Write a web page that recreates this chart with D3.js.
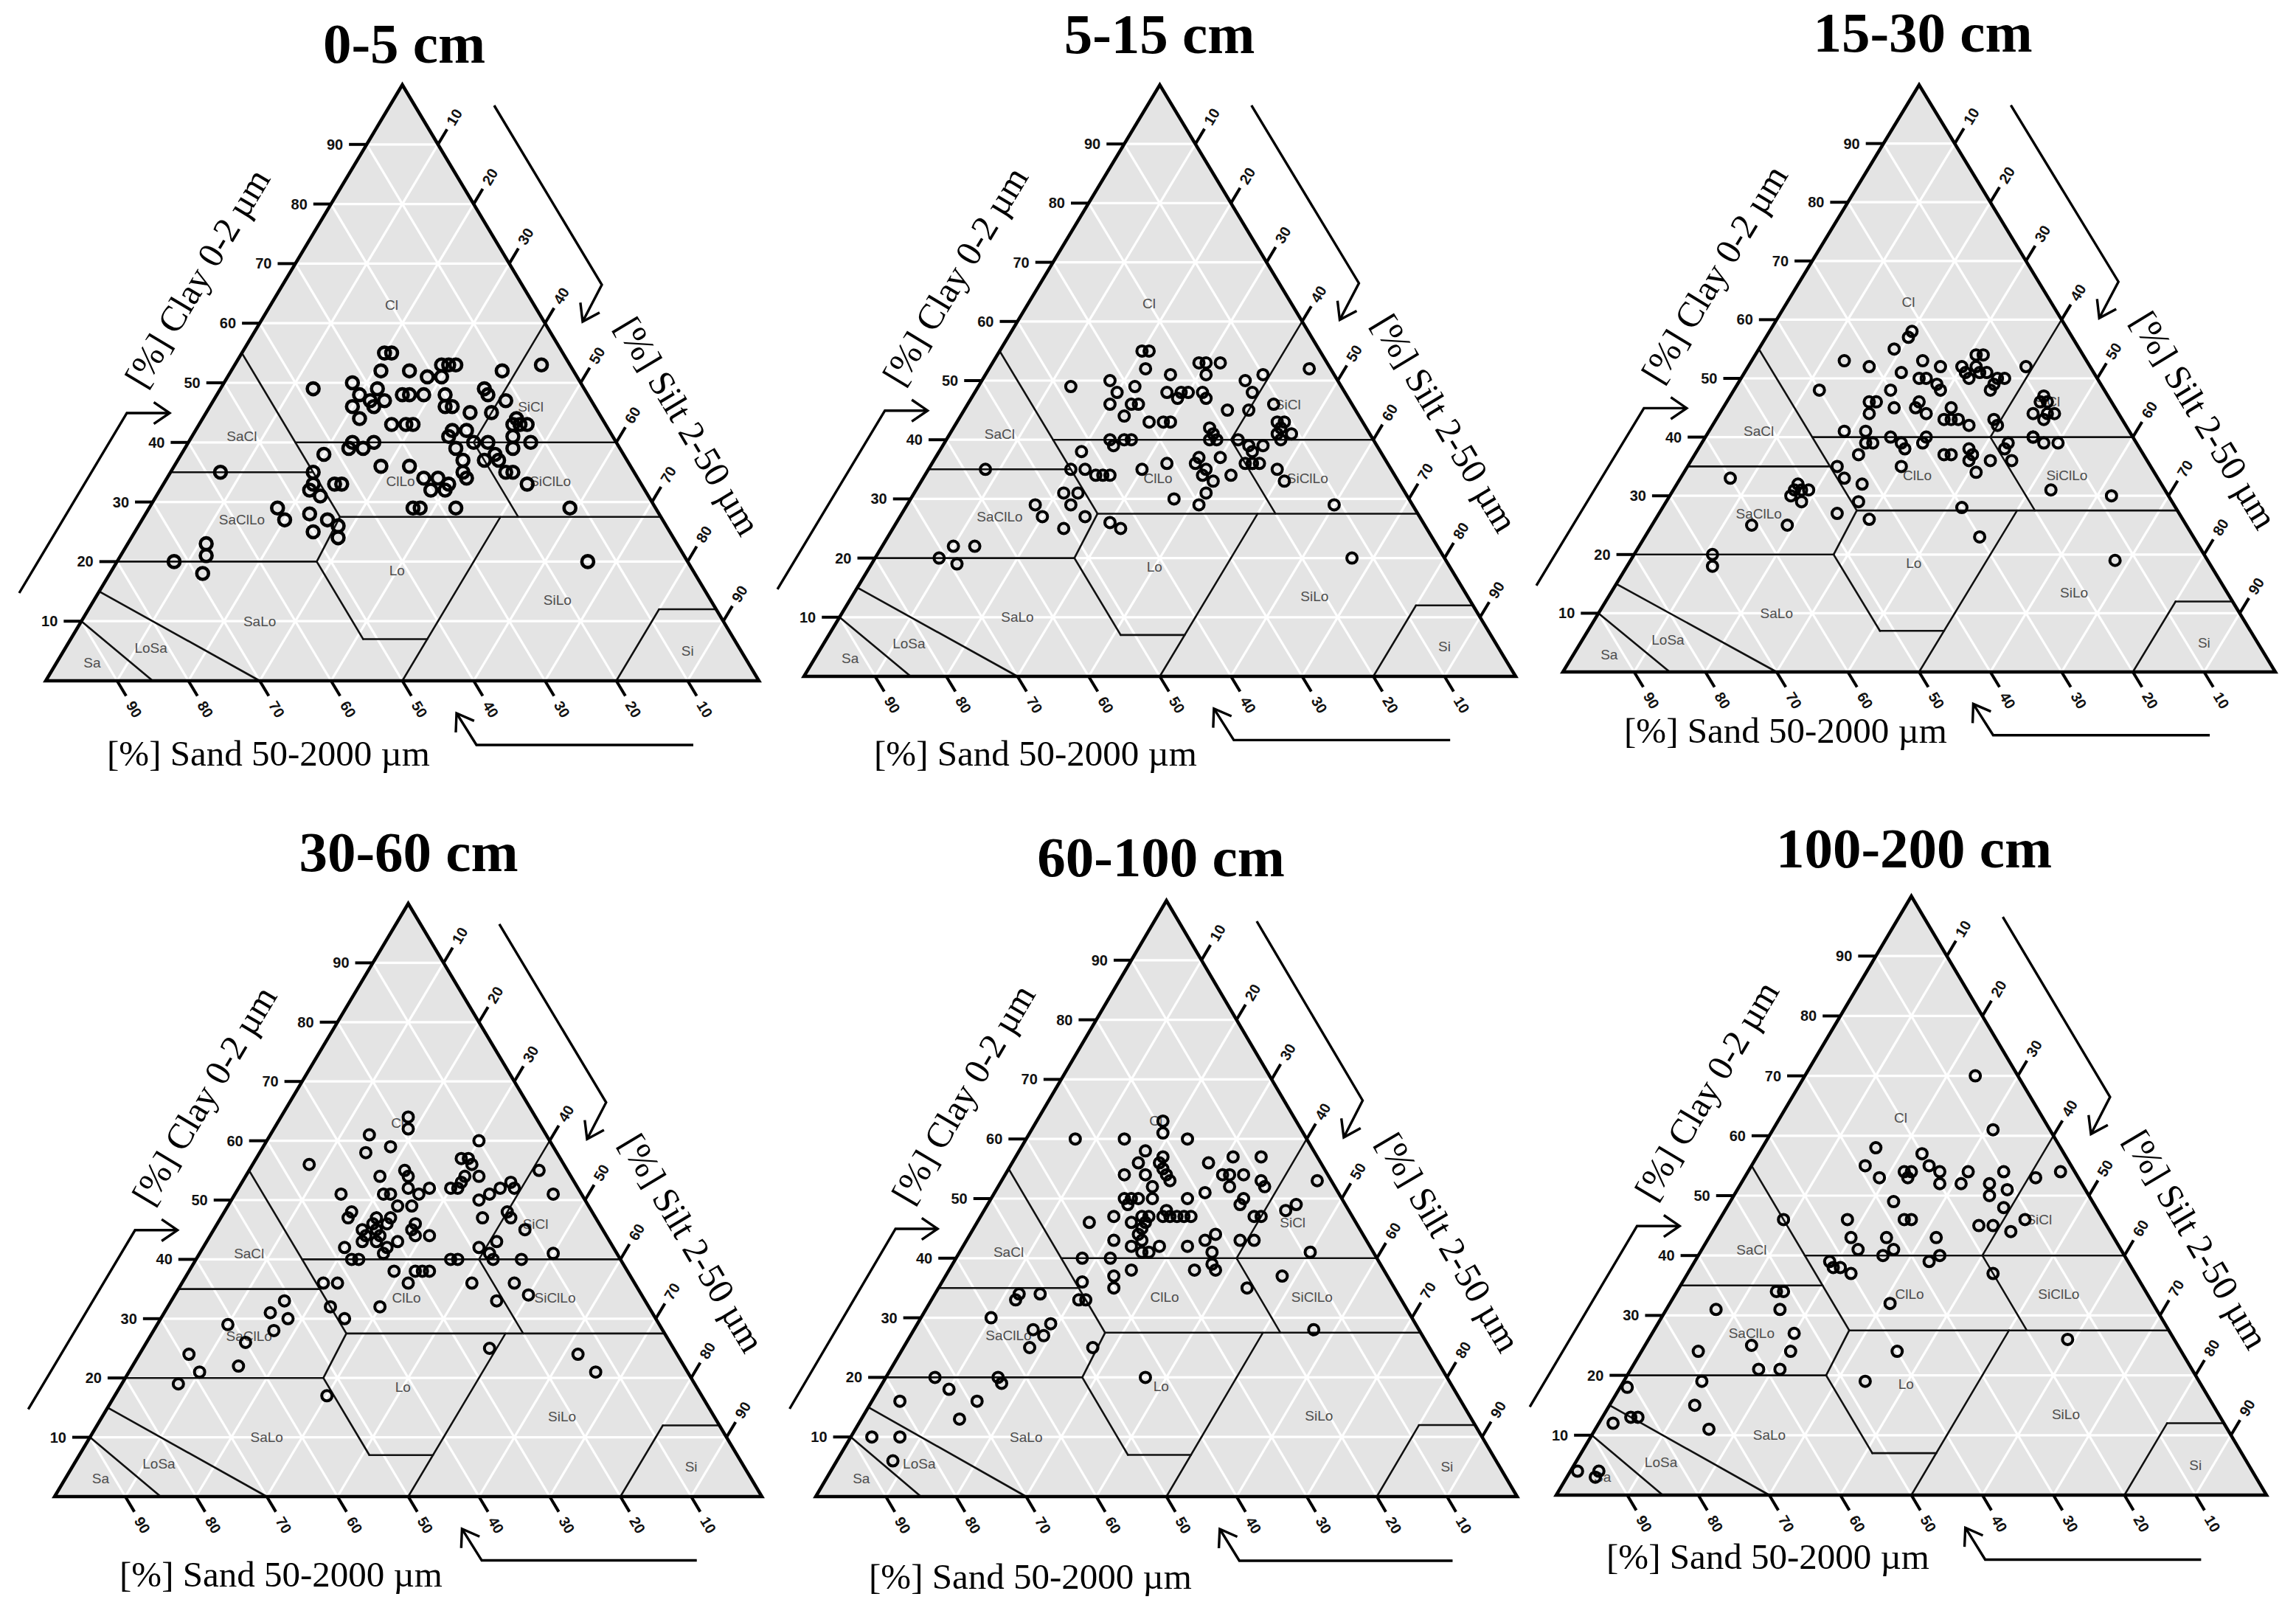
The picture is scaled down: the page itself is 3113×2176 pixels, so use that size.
<!DOCTYPE html>
<html>
<head>
<meta charset="utf-8">
<script src="https://cdn.jsdelivr.net/npm/d3@7"></script>
<style>
  body { margin: 0; background: #ffffff; }
  svg { display: block; }
</style>
</head>
<body>
<svg id="chart" width="3113" height="2176"></svg>
<script>
// ---------------- DATA: each point is [sand, silt, clay] in % ----------------
const depthTitles = ["0-5 cm", "5-15 cm", "15-30 cm", "30-60 cm", "60-100 cm", "100-200 cm"];

const depth0_5 = [[25,20,55],[24,21,55],[27,21,52],[38,13,49],[32,18,50],[32,20,48],[29,22,49],[31,22,47],[29,24,47],[34,20,46],[34,22,44],[31,23,46],[23,25,52],[21,28,51],[26,26,48],[25,27,48],[23,29,48],[18,29,53],[17,30,53],[16,31,53],[19,30,51],[20,32,48],[21,33,46],[20,34,46],[18,37,45],[14,37,49],[14,38,48],[15,40,45],[10,38,52],[12,41,47],[4,43,53],[30,27,43],[28,29,43],[27,30,43],[22,36,42],[20,38,42],[23,36,41],[23,38,39],[23,40,37],[24,41,35],[24,42,34],[20,40,40],[18,42,40],[18,44,38],[20,43,37],[18,45,37],[18,47,35],[17,48,35],[15,46,39],[14,45,41],[12,44,44],[12,45,43],[11,46,43],[12,48,40],[13,44,43],[34,26,40],[36,25,39],[37,23,40],[38,23,39],[42,20,38],[31,33,36],[35,29,36],[30,36,34],[28,38,34],[27,40,33],[30,38,32],[28,40,32],[28,43,29],[34,37,29],[33,38,29],[16,51,33],[12,59,29],[14,66,20],[58,7,35],[45,20,35],[46,21,33],[47,21,32],[46,23,31],[49,23,28],[47,26,27],[46,28,26],[50,25,25],[47,29,24],[42,25,33],[43,24,33],[53,18,29],[53,20,27],[66,11,23],[67,12,21],[72,8,20],[69,13,18]];

const depth5_15 = [[24,21,55],[25,20,55],[26,22,52],[38,13,49],[32,18,50],[32,20,48],[29,22,49],[31,23,46],[30,24,46],[34,20,46],[33,23,44],[23,26,51],[25,27,48],[23,29,48],[24,29,47],[22,30,48],[18,29,53],[17,30,53],[15,32,53],[18,31,51],[20,32,48],[20,33,47],[13,37,50],[10,39,51],[13,39,48],[15,40,45],[18,37,45],[11,43,46],[3,45,52],[30,27,43],[28,29,43],[27,30,43],[42,20,38],[37,24,39],[37,23,40],[35,25,40],[34,26,40],[22,36,42],[22,38,40],[23,37,40],[22,37,41],[19,41,40],[18,43,39],[18,44,38],[16,45,39],[12,45,43],[12,46,42],[11,46,43],[13,46,41],[13,47,40],[11,48,41],[20,44,36],[19,45,36],[18,46,36],[16,49,35],[19,45,36],[16,51,33],[11,60,29],[13,67,20],[57,8,35],[45,20,35],[43,22,35],[42,24,34],[41,25,34],[40,26,34],[48,21,31],[46,23,31],[48,23,29],[47,26,27],[51,24,25],[44,30,26],[43,32,25],[53,18,29],[53,20,27],[71,9,20],[68,10,22],[65,13,22],[69,12,19],[35,30,35],[31,33,36],[33,37,30],[27,37,36],[26,37,37],[27,39,34],[23,40,37],[26,41,33],[28,41,31],[23,43,34],[26,39,35],[30,41,29]];

const depth15_30 = [[22,20,58],[23,20,57],[34,13,53],[26,19,55],[23,24,53],[31,17,52],[27,22,51],[21,27,52],[25,25,50],[24,26,50],[23,28,49],[40,12,48],[30,22,48],[23,29,48],[18,30,52],[18,31,51],[16,32,52],[15,31,54],[14,32,54],[16,33,51],[15,34,51],[18,32,50],[15,36,49],[14,36,50],[13,37,50],[16,36,48],[9,39,52],[34,20,46],[33,21,46],[31,24,45],[35,21,44],[27,27,46],[28,27,45],[27,29,44],[25,32,43],[23,32,45],[23,34,43],[24,33,43],[22,36,42],[18,39,43],[18,40,42],[10,44,46],[9,44,47],[9,45,46],[12,44,44],[10,46,44],[9,47,44],[11,46,43],[14,46,40],[13,48,39],[11,50,39],[40,19,41],[37,22,41],[38,23,39],[40,23,37],[37,24,39],[34,26,40],[33,28,39],[33,29,38],[29,31,40],[30,31,39],[28,35,37],[27,36,37],[24,38,38],[24,39,37],[25,39,36],[25,41,34],[22,42,36],[18,43,39],[19,43,38],[19,45,36],[14,46,40],[35,30,35],[44,21,35],[44,23,33],[42,26,32],[44,27,29],[60,7,33],[53,17,30],[52,17,31],[51,17,32],[51,18,31],[50,19,31],[52,19,29],[48,25,27],[44,30,26],[61,14,25],[56,19,25],[30,42,28],[30,47,23],[16,53,31],[8,62,30],[13,68,19],[69,11,20],[70,12,18]];

const depth30_60 = [[18,18,64],[19,19,62],[25,14,61],[27,15,58],[23,18,59],[36,8,56],[10,30,60],[27,19,54],[23,22,55],[23,23,54],[24,24,52],[23,26,51],[21,27,52],[34,15,51],[28,21,51],[27,22,51],[27,24,49],[34,18,48],[35,18,47],[32,22,46],[31,22,47],[30,24,46],[29,24,47],[32,23,45],[32,24,44],[33,24,43],[34,21,45],[34,22,44],[35,22,43],[38,20,42],[37,23,40],[38,22,40],[30,27,43],[32,26,42],[33,26,41],[25,26,49],[26,28,46],[27,29,44],[27,28,45],[25,31,44],[18,30,52],[16,31,53],[15,31,54],[13,30,57],[14,29,57],[13,31,56],[17,31,52],[13,33,54],[15,35,50],[13,36,51],[11,37,52],[9,38,53],[9,39,52],[4,41,55],[4,45,51],[16,37,47],[12,40,48],[12,41,47],[11,44,45],[16,41,43],[19,39,42],[18,41,41],[18,42,40],[9,50,41],[14,46,40],[24,36,40],[23,37,40],[28,34,38],[29,33,38],[30,32,38],[32,32,36],[23,41,36],[17,47,36],[16,50,34],[33,29,38],[38,30,32],[21,46,33],[44,20,36],[42,22,36],[45,23,32],[44,26,30],[54,15,31],[51,16,33],[52,18,30],[55,17,28],[61,10,29],[60,14,26],[63,15,22],[69,7,24],[69,10,21],[73,8,19],[53,30,17],[26,49,25],[14,62,24],[13,66,21]];

const depth60_100 = [[19,18,63],[20,19,61],[33,7,60],[26,14,60],[17,23,60],[24,18,58],[26,18,56],[22,21,57],[23,21,56],[23,23,54],[23,24,53],[26,20,54],[26,22,52],[29,17,54],[23,22,55],[16,28,56],[15,31,54],[12,31,57],[12,34,54],[8,35,57],[10,37,53],[14,32,54],[15,33,52],[10,38,52],[14,36,50],[15,36,49],[2,45,53],[19,30,51],[22,28,50],[23,30,47],[24,29,47],[31,19,50],[30,20,50],[29,21,50],[27,23,50],[31,20,49],[34,19,47],[32,22,46],[30,23,47],[31,24,45],[32,24,44],[29,24,47],[30,24,46],[38,16,46],[27,26,47],[26,27,47],[25,28,47],[26,26,48],[36,21,43],[34,24,42],[32,25,43],[30,28,42],[33,26,41],[32,27,41],[26,32,42],[23,34,43],[21,35,44],[23,36,41],[24,37,39],[24,38,38],[18,39,43],[16,41,43],[14,39,47],[13,40,47],[9,43,48],[7,44,49],[42,18,40],[38,22,40],[36,26,38],[39,24,37],[40,25,35],[27,35,38],[9,50,41],[15,48,37],[21,44,35],[15,57,28],[44,20,36],[46,21,33],[45,22,33],[48,27,25],[54,12,34],[55,12,33],[51,15,34],[60,10,30],[55,17,28],[54,19,27],[52,19,29],[57,18,25],[43,37,20],[73,7,20],[64,16,20],[64,17,19],[72,10,18],[69,15,16],[73,14,13],[80,4,16],[87,3,10],[83,7,10],[86,8,6]];

const depth100_200 = [[6,24,70],[8,31,61],[26,16,58],[29,16,55],[28,19,53],[20,23,57],[20,25,55],[19,27,54],[20,28,52],[24,22,54],[24,23,53],[23,23,54],[17,31,52],[15,31,54],[13,35,52],[14,36,50],[10,36,54],[11,38,51],[6,41,53],[2,44,54],[28,23,49],[13,39,48],[16,39,45],[18,37,45],[14,42,44],[11,43,46],[45,9,46],[36,18,46],[37,20,43],[37,22,41],[32,25,43],[32,27,41],[34,26,40],[28,26,46],[27,27,46],[25,32,43],[26,34,40],[28,33,39],[42,19,39],[42,20,38],[41,21,38],[40,23,37],[20,43,37],[52,14,34],[51,15,34],[53,16,31],[37,31,32],[62,7,31],[53,20,27],[60,15,25],[55,21,24],[68,8,24],[40,36,24],[15,59,26],[61,18,21],[58,21,21],[47,34,19],[70,11,19],[73,12,15],[73,16,11],[81,1,18],[83,4,13],[82,5,13],[86,2,12],[95,1,4],[93,4,3],[92,4,4]];

const tickValues = [10, 20, 30, 40, 50, 60, 70, 80, 90];

// texture-class boundary segments, vertices as [sand, silt, clay]
const classBoundaries = [
  [[45,15,40],[0,60,40]],
  [[45,0,55],[45,27.5,27.5]],
  [[65,0,35],[45,20,35]],
  [[0,40,60],[20,40,40]],
  [[20,40,40],[20,52.5,27.5]],
  [[45,27.5,27.5],[0,72.5,27.5]],
  [[80,0,20],[52,28,20]],
  [[52,28,20],[45,27.5,27.5]],
  [[52,28,20],[52,41,7]],
  [[52,41,7],[43,50,7]],
  [[22.5,50,27.5],[50,50,0]],
  [[20,80,0],[8,80,12]],
  [[8,80,12],[0,88,12]],
  [[85,0,15],[70,30,0]],
  [[90,0,10],[85,15,0]]
];

const classNames = ["Cl","SiCl","SaCl","ClLo","SiClLo","SaClLo","Lo","SiLo","SaLo","LoSa","Sa","Si"];
const classLabelPos = [[20,17,63],[9,45,46],[52,7,41],[33.5,33,33.5],[12.5,54,33.5],[59,14,27],[41.5,40,18.5],[21.5,65,13.5],[65,25,10],[82.5,12,5.5],[92,5,3],[7.5,87.5,5]];

const axisTitles = { clay: "[%] Clay 0-2 \u00b5m", silt: "[%] Silt 2-50 \u00b5m", sand: "[%] Sand 50-2000 \u00b5m" };

// ---------------- LAYOUT ----------------
const layout = [
  { left: 62,   base: 923,  w: 967, h: 808, tx: 548,  ty: 85,   sandDx: 83, sandDy: 115, r: 8,   sw: 4.6 },
  { left: 1090, base: 917,  w: 965, h: 802, tx: 1572, ty: 72,   sandDx: 95, sandDy: 121, r: 7,   sw: 4.0 },
  { left: 2119, base: 911,  w: 966, h: 796, tx: 2607, ty: 70,   sandDx: 83, sandDy: 96,  r: 7,   sw: 4.0 },
  { left: 74,   base: 2029, w: 959, h: 804, tx: 554,  ty: 1181, sandDx: 88, sandDy: 122, r: 7,   sw: 4.0 },
  { left: 1106, base: 2029, w: 951, h: 808, tx: 1574, ty: 1188, sandDx: 72, sandDy: 125, r: 7,   sw: 4.0 },
  { left: 2110, base: 2027, w: 963, h: 812, tx: 2595, ty: 1176, sandDx: 68, sandDy: 100, r: 7,   sw: 4.0 }
];
const datasets = [depth0_5, depth5_15, depth15_30, depth30_60, depth60_100, depth100_200];

const svg = d3.select("#chart");
svg.append("rect").attr("width", 3113).attr("height", 2176).attr("fill", "#ffffff");

const SERIF = "'Liberation Serif', 'Times New Roman', serif";
const SANS = "'Liberation Sans', Arial, sans-serif";

layout.forEach((P, i) => drawPanel(P, datasets[i], depthTitles[i]));

function drawPanel(P, data, title) {
  const g = svg.append("g");
  const xs = d3.scaleLinear().domain([0, 100]).range([P.left, P.left + P.w]);
  const ys = d3.scaleLinear().domain([0, 100]).range([P.base, P.base - P.h]);
  const X = d => xs(d[1] + d[2] / 2);
  const Y = d => ys(d[2]);
  const line = d3.line().x(X).y(Y);
  const len = Math.hypot(P.w / 2, P.h);
  const angL = Math.atan2(-P.h, P.w / 2) * 180 / Math.PI; // left edge angle (~ -59)
  const upR = [P.w / 2 / len, -P.h / len];   // along left edge, upwards
  const dnR = [P.w / 2 / len, P.h / len];    // along right edge, downwards
  const sx = P.w / 967, sy = P.h / 808;
  const corners = [[100,0,0],[0,100,0],[0,0,100]];

  // background
  g.append("path").attr("d", line(corners) + "Z").attr("fill", "#e4e4e4");

  // white grid
  const grid = [];
  tickValues.forEach(v => {
    grid.push([[100 - v, 0, v], [0, 100 - v, v]]);
    grid.push([[v, 100 - v, 0], [v, 0, 100 - v]]);
    grid.push([[100 - v, v, 0], [0, v, 100 - v]]);
  });
  g.selectAll("path.grid").data(grid).join("path").attr("class", "grid")
    .attr("d", line).attr("fill", "none").attr("stroke", "#ffffff").attr("stroke-width", 3.2);

  // class boundaries
  g.selectAll("path.bnd").data(classBoundaries).join("path").attr("class", "bnd")
    .attr("d", line).attr("fill", "none").attr("stroke", "#111").attr("stroke-width", 2.6)
    .attr("stroke-linecap", "round");

  // class labels
  g.selectAll("text.cls").data(classLabelPos).join("text").attr("class", "cls")
    .attr("x", X).attr("y", Y).attr("text-anchor", "middle").attr("dominant-baseline", "central")
    .attr("font-family", SANS).attr("font-size", 19).attr("fill", "#4d4d4d")
    .text((d, k) => classNames[k]);

  // outline
  g.append("path").attr("d", line(corners) + "Z").attr("fill", "none")
    .attr("stroke", "#000").attr("stroke-width", 4.5).attr("stroke-linejoin", "miter");

  const tickLen = 24;
  // clay ticks (left edge)
  tickValues.forEach(v => {
    const p = [100 - v, 0, v];
    const x0 = X(p), y0 = Y(p);
    g.append("line").attr("x1", x0).attr("y1", y0).attr("x2", x0 - tickLen).attr("y2", y0)
      .attr("stroke", "#000").attr("stroke-width", 4);
    g.append("text").attr("x", x0 - tickLen - 8).attr("y", y0)
      .attr("text-anchor", "end").attr("dominant-baseline", "central")
      .attr("font-family", SANS).attr("font-size", 20).attr("font-weight", "bold").attr("fill", "#111").text(v);
  });
  // silt ticks (right edge)
  tickValues.forEach(v => {
    const p = [0, v, 100 - v];
    const x0 = X(p), y0 = Y(p);
    g.append("line").attr("x1", x0).attr("y1", y0)
      .attr("x2", x0 + upR[0] * tickLen).attr("y2", y0 + upR[1] * tickLen)
      .attr("stroke", "#000").attr("stroke-width", 4);
    const lx = x0 + upR[0] * (tickLen + 8), ly = y0 + upR[1] * (tickLen + 8);
    g.append("text").attr("transform", `translate(${lx},${ly}) rotate(${angL})`)
      .attr("text-anchor", "start").attr("dominant-baseline", "central")
      .attr("font-family", SANS).attr("font-size", 20).attr("font-weight", "bold").attr("fill", "#111").text(v);
  });
  // sand ticks (base)
  tickValues.forEach(v => {
    const p = [v, 100 - v, 0];
    const x0 = X(p), y0 = Y(p);
    g.append("line").attr("x1", x0).attr("y1", y0)
      .attr("x2", x0 + dnR[0] * tickLen).attr("y2", y0 + dnR[1] * tickLen)
      .attr("stroke", "#000").attr("stroke-width", 4);
    const lx = x0 + dnR[0] * (tickLen + 10), ly = y0 + dnR[1] * (tickLen + 10);
    g.append("text").attr("transform", `translate(${lx},${ly}) rotate(${-angL})`)
      .attr("text-anchor", "start").attr("dominant-baseline", "central")
      .attr("font-family", SANS).attr("font-size", 20).attr("font-weight", "bold").attr("fill", "#111").text(v);
  });

  // data points
  g.selectAll("circle.pt").data(data).join("circle").attr("class", "pt")
    .attr("cx", X).attr("cy", Y).attr("r", P.r)
    .attr("fill", "none").attr("stroke", "#000").attr("stroke-width", P.sw);

  // title
  g.append("text").attr("x", P.tx).attr("y", P.ty).attr("text-anchor", "middle")
    .attr("font-family", SERIF).attr("font-weight", "bold").attr("font-size", 77).attr("fill", "#000")
    .text(title);

  // clay axis title
  {
    const c = 61, d = 104;
    const ex = P.left + P.w * c / 200, ey = P.base - P.h * c / 100;
    const nx = -P.h / len, ny = -(P.w / 2) / len;
    g.append("text").attr("transform", `translate(${ex + nx * d},${ey + ny * d}) rotate(${angL})`)
      .attr("text-anchor", "middle").attr("dominant-baseline", "central")
      .attr("font-family", SERIF).attr("font-size", 49).attr("fill", "#000").text(axisTitles.clay);
  }
  // silt axis title
  {
    const c = 36.7, d = 95;
    const ex = P.left + P.w - P.w * c / 200, ey = P.base - P.h * c / 100;
    const nx = P.h / len, ny = -(P.w / 2) / len;
    g.append("text").attr("transform", `translate(${ex + nx * d},${ey + ny * d}) rotate(${-angL})`)
      .attr("text-anchor", "middle").attr("dominant-baseline", "central")
      .attr("font-family", SERIF).attr("font-size", 49).attr("fill", "#000").text(axisTitles.silt);
  }
  // sand axis title
  g.append("text").attr("x", P.left + P.sandDx).attr("y", P.base + P.sandDy)
    .attr("font-family", SERIF).attr("font-size", 49).attr("fill", "#000").text(axisTitles.sand);

  // arrows
  const rel = pts => pts.map(([a, b]) => [P.left + a * sx, P.base + b * sy]);
  const arrows = [
    rel([[-36, -119], [110, -363], [168, -363]]),
    rel([[608, -780], [754, -537], [728, -487]]),
    rel([[878, 87], [584, 87], [557, 44]])
  ];
  arrows.forEach(pts => {
    g.append("path").attr("d", d3.line()(pts)).attr("fill", "none")
      .attr("stroke", "#000").attr("stroke-width", 3.4).attr("stroke-linejoin", "miter");
    const [a, b] = pts.slice(-2);
    const th = Math.atan2(b[1] - a[1], b[0] - a[0]);
    const hl = 26, spread = 0.6;
    const h1 = [b[0] - hl * Math.cos(th - spread), b[1] - hl * Math.sin(th - spread)];
    const h2 = [b[0] - hl * Math.cos(th + spread), b[1] - hl * Math.sin(th + spread)];
    g.append("path").attr("d", d3.line()([h1, b, h2])).attr("fill", "none")
      .attr("stroke", "#000").attr("stroke-width", 3.4).attr("stroke-linejoin", "miter");
  });
}
</script>
</body>
</html>
